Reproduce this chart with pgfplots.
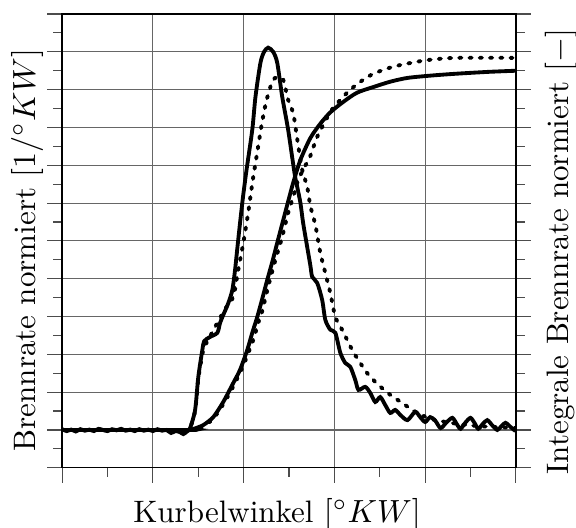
\documentclass[border=0pt]{standalone}
\usepackage{pgfplots}
\pgfplotsset{compat=1.18}

\begin{document}
\begin{tikzpicture}
\begin{axis}[
  name=ax,
  scale only axis,
  width=141.6pt, height=141.6pt,
  xmin=0, xmax=10, ymin=-1, ymax=11,
  xtick={0,2,...,10}, ytick={-1,0,...,11},
  minor x tick num=1, minor y tick num=1,
  xticklabels={}, yticklabels={},
  xtick pos=bottom, ytick pos=both,
  tick align=outside,
  major tick length=4.7pt, minor tick length=2.8pt,
  grid=major,
  major grid style={black!60, line width=0.35pt},
  every tick/.style={black!70, line width=0.35pt},
  axis line style={black, line width=0.45pt},
  label style={font=\fontsize{9.68pt}{11.6pt}\selectfont},
  xlabel={Kurbelwinkel $[^\circ KW]$},
  ylabel={Brennrate normiert $[1/^\circ KW]$},
  xlabel style={at={(axis description cs:0.4735,-0.1025)}, anchor=center},
  ylabel style={at={(axis description cs:-0.077,0.48)}, anchor=center},
  extra description/.code={
    \node[rotate=90, anchor=center, font=\fontsize{9.68pt}{11.6pt}\selectfont]
      at (axis description cs:1.099,0.477)
      {Integrale Brennrate normiert $[-]$};
  },
  every axis plot/.append style={smooth, tension=0.45},
  model/.style={black, line width=1.2pt, line cap=round, dash pattern=on 0.7pt off 2.5pt},
]
% Brennrate, Messung
\addplot[black, line width=1.2pt] coordinates {
(0,0.02)(0.1,-0.03)(0.2,0.01)(0.3,-0.04)(0.4,0.02)(0.5,-0.02)(0.6,0.01)(0.7,-0.03)
(0.8,0.03)(0.9,0.0)(1.0,-0.03)(1.1,0.02)(1.2,-0.01)(1.3,0.03)(1.4,-0.02)(1.5,0.01)
(1.6,-0.03)(1.7,0.02)(1.8,-0.02)(1.9,0.01)(2.0,-0.03)(2.1,0.02)(2.2,-0.02)(2.3,0.0)
(2.4,-0.08)(2.5,-0.03)(2.6,-0.06)(2.67,-0.11)(2.75,-0.04)(2.82,0.05)(2.93,0.53)
(3.00,1.40)(3.09,2.12)(3.13,2.35)(3.26,2.46)(3.42,2.57)(3.48,2.83)(3.55,3.04)
(3.66,3.35)(3.75,3.70)(3.81,4.23)(3.88,5.03)(3.97,6.01)(4.06,6.85)(4.19,7.94)
(4.26,8.81)(4.37,9.71)(4.45,10.0)(4.54,10.11)(4.65,10.0)(4.74,9.71)(4.85,8.81)
(4.98,7.94)(5.12,6.80)(5.18,6.43)(5.25,6.01)(5.31,5.48)(5.40,4.84)(5.47,4.35)
(5.51,4.05)(5.62,3.89)(5.73,3.44)(5.80,2.91)(5.91,2.65)(6.02,2.57)(6.13,2.04)
(6.24,1.77)(6.35,1.67)(6.46,1.32)(6.53,1.06)(6.68,1.14)(6.79,0.98)(6.90,0.74)
(7.01,0.87)(7.12,0.66)(7.23,0.45)(7.34,0.53)(7.45,0.40)(7.61,0.26)(7.78,0.48)
(7.89,0.34)(8.00,0.21)(8.11,0.34)(8.22,0.25)(8.34,0.05)(8.47,0.20)(8.60,0.32)
(8.70,0.15)(8.78,0.03)(8.89,0.20)(9.00,0.32)(9.09,0.18)(9.17,0.03)(9.27,0.16)
(9.37,0.26)(9.48,0.12)(9.59,0.0)(9.68,0.10)(9.77,0.19)(9.88,0.08)(9.99,-0.03)
};
% Brennrate, Modell
\addplot[model] coordinates {
(0,0)(2.78,0)(2.82,0.05)(2.93,0.5)(3.00,1.35)(3.09,2.0)(3.13,2.2)(3.22,2.38)
(3.31,2.59)(3.48,2.96)(3.59,3.2)(3.77,3.52)(3.88,4.23)(4.0,5.0)(4.1,5.75)(4.2,6.6)
(4.3,7.35)(4.4,8.1)(4.5,8.7)(4.63,9.21)(4.74,9.34)(4.87,9.26)(4.98,8.73)(5.09,8.39)
(5.14,8.02)(5.20,7.54)(5.29,6.88)(5.40,6.43)(5.47,5.92)(5.58,5.42)(5.69,4.68)
(5.80,4.15)(5.91,3.62)(6.02,2.99)(6.17,2.65)(6.39,2.12)(6.57,1.77)(6.75,1.46)
(6.97,1.19)(7.23,0.93)(7.50,0.71)(7.78,0.48)(8.11,0.30)(8.5,0.2)(9.0,0.12)
(9.5,0.08)(10,0.05)
};
% Integrale Brennrate, Messung
\addplot[black, line width=1.2pt] coordinates {
(0,0)(2.78,0)(2.9,0.03)(3.11,0.13)(3.33,0.34)(3.55,0.74)(3.77,1.24)(3.92,1.59)
(4.08,2.12)(4.19,2.57)(4.30,2.99)(4.41,3.47)(4.52,3.97)(4.63,4.44)(4.74,4.95)
(4.85,5.45)(4.96,5.95)(5.09,6.53)(5.25,7.14)(5.47,7.72)(5.69,8.1)(5.91,8.4)
(6.20,8.68)(6.50,8.92)(6.86,9.07)(7.23,9.21)(7.61,9.31)(8.11,9.37)(8.67,9.42)
(9.39,9.47)(10,9.50)
};
% Integrale Brennrate, Modell
\addplot[model] coordinates {
(0,0)(2.78,0)(2.9,0.02)(3.11,0.1)(3.33,0.3)(3.55,0.68)(3.77,1.15)(3.99,1.7)
(4.21,2.38)(4.32,2.83)(4.41,3.15)(4.54,3.79)(4.70,4.50)(4.85,5.11)(4.98,5.74)
(5.09,6.16)(5.20,6.61)(5.31,6.88)(5.47,7.25)(5.62,7.75)(5.91,8.41)(6.13,8.73)
(6.35,9.0)(6.62,9.25)(6.86,9.42)(7.17,9.56)(7.45,9.65)(7.83,9.74)(8.11,9.79)
(8.67,9.84)(10,9.84)
};
\end{axis}
\pgfresetboundingbox
\path ([xshift=-19.4pt, yshift=-18.75pt]ax.south west)
  rectangle ([xshift=18.75pt, yshift=4.38pt]ax.north east);
\end{tikzpicture}
\end{document}
